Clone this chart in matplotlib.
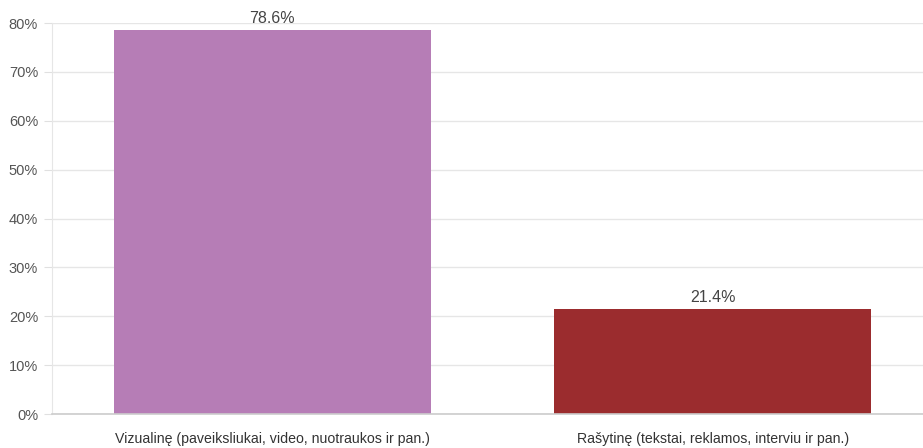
import matplotlib.pyplot as plt
from matplotlib.ticker import FuncFormatter

plt.rcParams['font.family'] = ['Liberation Sans', 'DejaVu Sans']

categories = ['Vizualinę (paveiksliukai, video, nuotraukos ir pan.)',
              'Rašytinę (tekstai, reklamos, interviu ir pan.)']
values = [78.6, 21.4]
colors = ['#b67db6', '#9b2c2e']

fig = plt.figure(figsize=(9.23, 4.48), dpi=100)
W, H = 923, 448
ax = fig.add_axes([52 / W, 34 / H, (923 - 52) / W, (414 - 23) / H])

x = list(range(len(categories)))
bars = ax.bar(x, values, width=0.72, color=colors, zorder=2)

for xi, v in zip(x, values):
    ax.text(xi, v + 0.8, f'{v}%', ha='center', va='bottom', fontsize=11.5, color='#444444')

# px per category is ~440, right side runs off the canvas
ax.set_xlim(-0.5, (923 - 52) / 440.5 - 0.5)
ax.set_ylim(0, 80)
ax.set_yticks(range(0, 81, 10))
ax.yaxis.set_major_formatter(FuncFormatter(lambda v, p: f'{int(v)}%'))
ax.set_xticks(x)
ax.set_xticklabels(categories)

ax.grid(axis='y', color='#e6e6e6', linewidth=1, zorder=0)
ax.tick_params(axis='y', length=6, color='#e0e0e0', labelsize=10.5, labelcolor='#555555', pad=4)
ax.tick_params(axis='x', length=0, labelsize=10.2, labelcolor='#333333', pad=13)

for s in ['top', 'right']:
    ax.spines[s].set_visible(False)
ax.spines['left'].set_color('#e6e6e6')
ax.spines['bottom'].set_color('#cccccc')
ax.spines['bottom'].set_linewidth(1.2)

fig.savefig('out.png', dpi=100)
